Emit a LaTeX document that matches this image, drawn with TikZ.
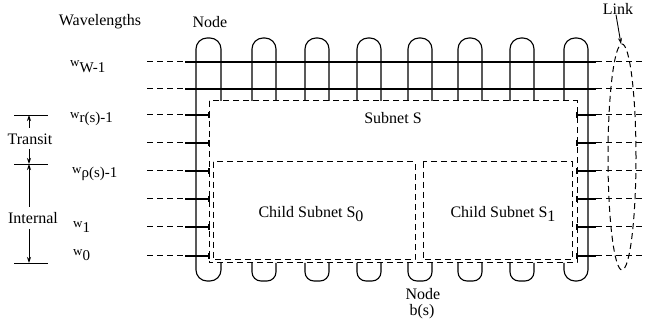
\documentclass[tikz,border=0pt]{standalone}
\usepackage{fontspec}
\setmainfont{Liberation Serif}
\usetikzlibrary{arrows.meta}
\newcommand\wsub[2]{{\fontsize{13}{13}\selectfont\raisebox{#2}{w}}{\fontsize{15}{15}\selectfont #1}}
\begin{document}
\begin{tikzpicture}[x=1pt,y=-1pt,
  wire/.style={line width=1.1pt},
  dsh/.style={line width=1pt, dash pattern=on 6pt off 4pt},
  lbl/.style={font=\fontsize{16}{19}\selectfont, inner sep=0pt},
  arr/.style={line width=0.9pt, -{Stealth[length=6pt,width=4pt]}}]
\useasboundingbox (0,0) rectangle (646,326);

% wavelength rows
\foreach \y in {62,89,115,143,171,199,227,256} {
  \draw[dsh] (147,\y) -- (185,\y);
  \draw[dsh] (596,\y) -- (646,\y);
}
\draw[wire] (185,62) -- (596,62);
\draw[wire] (185,89) -- (596,89);
\foreach \y in {115,143,171,199,227,256} {
  \draw[wire] (185,\y) -- (209,\y);
  \draw[wire] (209,\y-3) -- (209,\y+3);
  \draw[wire] (577,\y) -- (596,\y);
  \draw[wire] (577,\y-3) -- (577,\y+3);
}

% subnets
\draw[dsh] (209,101) rectangle (577,263);
\draw[dsh] (213,162) rectangle (415,260);
\draw[dsh] (423,162) rectangle (572,260);

% end nodes (tall)
\draw[wire, rounded corners=11pt] (221,101) -- (221,38) -- (196,38) -- (196,281) -- (221,281) -- (221,263);
\draw[wire, rounded corners=11pt] (564,101) -- (564,38) -- (588,38) -- (588,281) -- (564,281) -- (564,263);

% middle nodes: top arches and bottom cups
\foreach \a in {252,305,357,408,458,510} {
  \draw[wire, rounded corners=11pt] (\a,101) -- (\a,38) -- (\a+24,38) -- (\a+24,101);
  \draw[wire, rounded corners=9pt] (\a,263) -- (\a,281) -- (\a+24,281) -- (\a+24,263);
}

% link ellipse
\draw[dsh] (622,157) ellipse [x radius=14pt, y radius=113pt];
\coordinate (linktop) at (621,44);
\node[lbl] (link) at (618,9) {Link};
\draw[arr] (link.south) ++(-2,0) -- (linktop);

% labels
\node[lbl] (wave) at (100,22) {Wavelengths};
\node[lbl] (nodetop) at (210,22) {Node};
\node[lbl] (subS) at (393,118) {Subnet S};
\node[lbl] (childA) at (311,214) {Child Subnet S\raisebox{-4pt}{0}};
\node[lbl] (childB) at (503,214) {Child Subnet S\raisebox{-4pt}{1}};
\node[lbl] (nodeb) at (423,294) {Node};
\node[lbl] (bs) at (422,312) {b(s)};

\node[lbl, anchor=west] (wW) at (70,67) {\wsub{W-1}{6pt}};
\node[lbl, anchor=west] (wr) at (70,119) {\wsub{r(s)-1}{4pt}};
\node[lbl, anchor=west] (wp) at (72,174) {\wsub{ρ(s)-1}{4pt}};
\node[lbl, anchor=west] (w1) at (73,227) {\wsub{1}{5pt}};
\node[lbl, anchor=west] (w0) at (73,255) {\wsub{0}{5pt}};

% transit / internal bracket
\draw[line width=0.9pt] (14,115) -- (48,115);
\draw[line width=0.9pt] (14,164) -- (48,164);
\draw[line width=0.9pt] (14,263) -- (48,263);
\coordinate (t1) at (29,115);
\coordinate (t2) at (29,164);
\coordinate (t3) at (29,263);
\node[lbl] (transit) at (30,139) {Transit};
\node[lbl] (internal) at (33,218) {Internal};
\draw[arr] (29,128) -- (t1);
\draw[arr] (29,149) -- (t2);
\draw[arr] (29,207) -- (t2);
\draw[arr] (29,229) -- (t3);
\end{tikzpicture}
\end{document}
